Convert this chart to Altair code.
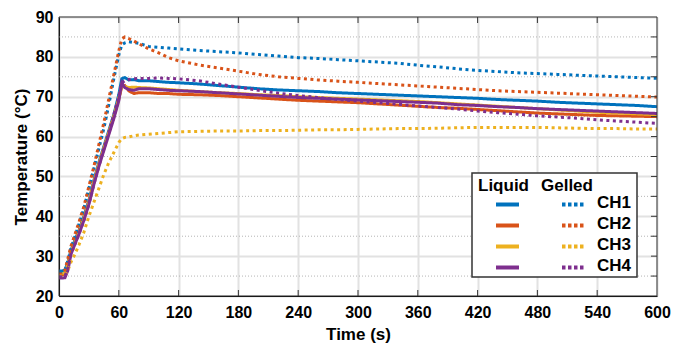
import altair as alt
import pandas as pd

FONT = "Liberation Sans"

time_s = [0, 3, 6, 9, 12, 16, 20, 25, 30, 35, 40, 45, 50, 55, 60,
          63, 66, 70, 75, 80, 90, 100, 110, 120,
          140, 160, 180, 200, 220, 240, 260, 280, 300, 320, 340, 360,
          380, 400, 420, 440, 460, 480, 500, 520, 540, 560, 580, 600]

liquid_ch1 = [26.3, 26.3, 26.5, 28.5, 31.5, 34.0, 36.5, 40.0, 44.0, 49.0, 53.5, 57.5, 61.5, 65.5, 70.5,
              74.5, 74.8, 74.2, 74.3, 74.0, 74.0, 73.8, 73.6, 73.5,
              73.2, 72.8, 72.4, 72.0, 71.7, 71.5, 71.3, 71.0, 70.8, 70.6, 70.4, 70.2,
              70.0, 69.8, 69.6, 69.3, 69.1, 68.9, 68.6, 68.4, 68.2, 68.0, 67.8, 67.5]
liquid_ch2 = [25.3, 25.3, 25.5, 28.0, 31.0, 33.5, 36.0, 39.5, 43.5, 48.5, 53.0, 57.0, 61.0, 65.0, 69.5,
              72.5, 72.8, 71.5, 70.8, 71.0, 71.0, 70.8, 70.8, 70.6,
              70.5, 70.3, 70.0, 69.7, 69.4, 69.1, 68.9, 68.7, 68.5, 68.2, 67.9, 67.6,
              67.3, 67.1, 66.8, 66.5, 66.2, 65.9, 65.7, 65.5, 65.3, 65.2, 65.1, 65.0]
liquid_ch3 = [25.6, 25.6, 25.8, 28.0, 31.0, 33.5, 36.0, 39.5, 43.5, 48.5, 53.0, 57.0, 61.0, 65.0, 69.5,
              73.0, 72.6, 72.3, 72.4, 72.3, 72.2, 72.0, 71.8, 71.6,
              71.3, 71.0, 70.8, 70.5, 70.3, 70.0, 69.8, 69.6, 69.4, 69.2, 69.0, 68.8,
              68.5, 68.2, 67.9, 67.6, 67.3, 67.0, 66.7, 66.4, 66.1, 65.9, 65.7, 65.5]
liquid_ch4 = [24.5, 24.5, 24.6, 26.5, 30.5, 33.0, 35.5, 39.0, 43.0, 48.0, 52.5, 56.5, 60.5, 64.5, 69.0,
              73.5, 72.3, 71.8, 71.6, 72.0, 72.0, 71.8, 71.6, 71.5,
              71.3, 71.0, 70.7, 70.4, 70.1, 69.8, 69.6, 69.4, 69.2, 69.0, 68.8, 68.6,
              68.4, 68.0, 67.8, 67.5, 67.3, 67.0, 66.8, 66.6, 66.4, 66.2, 66.0, 65.8]

gelled_ch1 = [26.0, 26.0, 26.5, 29.0, 32.0, 35.0, 38.0, 42.0, 47.0, 52.0, 57.0, 62.0, 68.0, 74.5, 80.5,
              83.0, 83.5, 83.8, 83.6, 83.4, 82.6, 82.4, 82.2, 82.0,
              81.6, 81.3, 81.0, 80.6, 80.2, 79.8, 79.6, 79.3, 79.0, 78.7, 78.4, 77.9,
              77.5, 77.0, 76.6, 76.3, 76.0, 75.8, 75.6, 75.4, 75.2, 75.0, 74.8, 74.6]
gelled_ch2 = [25.5, 25.5, 26.5, 29.5, 32.5, 35.5, 38.5, 42.5, 47.5, 52.5, 58.0, 63.5, 69.5, 75.5, 81.5,
              84.5, 85.0, 84.6, 84.0, 83.3, 82.0, 81.0, 79.8, 79.0,
              78.0, 77.2, 76.4, 75.6, 75.0, 74.6, 74.2, 73.9, 73.6, 73.3, 73.0, 72.7,
              72.4, 72.1, 71.8, 71.5, 71.3, 71.1, 70.9, 70.7, 70.5, 70.3, 70.1, 69.9]
gelled_ch3 = [25.0, 25.0, 25.2, 26.5, 28.5, 30.5, 32.8, 36.0, 40.0, 43.5, 47.0, 50.5, 53.5, 56.0, 58.5,
              59.5, 59.8, 59.9, 60.2, 60.4, 60.6, 60.8, 61.0, 61.2,
              61.3, 61.4, 61.4, 61.5, 61.5, 61.6, 61.7, 61.7, 61.8, 61.9, 62.0, 62.0,
              62.1, 62.2, 62.3, 62.3, 62.3, 62.3, 62.2, 62.1, 62.0, 62.0, 61.9, 61.9]
gelled_ch4 = [24.8, 24.8, 25.0, 27.0, 30.5, 33.0, 35.5, 39.0, 43.0, 48.0, 52.5, 57.0, 61.0, 65.5, 70.0,
              73.5, 74.0, 74.3, 74.5, 74.6, 74.6, 74.7, 74.6, 74.5,
              74.0, 73.2, 72.4, 71.6, 70.9, 70.3, 69.8, 69.3, 68.9, 68.5, 68.1, 67.7,
              67.3, 66.9, 66.4, 66.0, 65.6, 65.2, 64.9, 64.6, 64.2, 63.9, 63.6, 63.3]

channels = ["CH1", "CH2", "CH3", "CH4"]
states = ["Liquid", "Gelled"]
colors = ["#0072BD", "#D95319", "#EDB120", "#7E2F8E"]

x_ticks = [0, 60, 120, 180, 240, 300, 360, 420, 480, 540, 600]
y_ticks = [20, 30, 40, 50, 60, 70, 80, 90]
y_minor = [25, 35, 45, 55, 65, 75, 85]

series = {
    ("Liquid", "CH1"): liquid_ch1, ("Liquid", "CH2"): liquid_ch2,
    ("Liquid", "CH3"): liquid_ch3, ("Liquid", "CH4"): liquid_ch4,
    ("Gelled", "CH1"): gelled_ch1, ("Gelled", "CH2"): gelled_ch2,
    ("Gelled", "CH3"): gelled_ch3, ("Gelled", "CH4"): gelled_ch4,
}
rows = []
for (state, ch), vals in series.items():
    for t, v in zip(time_s, vals):
        rows.append({"time": t, "temp": v, "channel": ch, "state": state})
df = pd.DataFrame(rows)

W, H = 598, 279
color_scale = alt.Scale(domain=channels, range=colors)
x_scale = alt.Scale(domain=[0, 600], nice=False)
y_scale = alt.Scale(domain=[20, 90], nice=False, zero=False)

x_axis = alt.Axis(
    values=x_ticks, title="Time (s)", ticks=False, labelFlush=False, labelOverlap=False,
    labelFont=FONT, labelFontSize=16, labelFontWeight="bold", labelColor="black",
    labelPadding=8, titleFont=FONT, titleFontSize=17, titleFontWeight="bold",
    titleColor="black", titlePadding=6, domainColor="black", domainWidth=1,
    gridColor="#e2e2e2", gridWidth=2)
y_axis = alt.Axis(
    values=y_ticks, title="Temperature (°C)", ticks=False, labelFlush=False, labelOverlap=False,
    labelFont=FONT, labelFontSize=16, labelFontWeight="bold", labelColor="black",
    labelPadding=6, titleFont=FONT, titleFontSize=17, titleFontWeight="bold",
    titleColor="black", titlePadding=5, domainColor="black", domainWidth=1,
    gridColor="#e2e2e2", gridWidth=2)

X = lambda: alt.X("time:Q", scale=x_scale, axis=x_axis)
Y = lambda: alt.Y("temp:Q", scale=y_scale, axis=y_axis)

lines = alt.Chart(df).mark_line(strokeWidth=3, strokeCap="butt").encode(
    x=X(), y=Y(),
    color=alt.Color("channel:N", scale=color_scale, legend=None),
    strokeDash=alt.StrokeDash("state:N", scale=alt.Scale(domain=states, range=[[1, 0], [3, 3.5]]), legend=None),
)

minor = alt.Chart(pd.DataFrame({"temp": y_minor})).mark_rule(
    color="#b5b5b5", strokeWidth=1, strokeDash=[1, 2]).encode(y=Y())

xt = pd.DataFrame({"time": x_ticks[1:-1]})
yt = pd.DataFrame({"temp": y_ticks[1:-1] + y_minor})
top_ticks = alt.Chart(xt).mark_rule(color="#333333", strokeWidth=1).encode(
    x=X(), y=alt.value(0), y2=alt.value(6))
bot_ticks = alt.Chart(xt).mark_rule(color="#333333", strokeWidth=1).encode(
    x=X(), y=alt.value(H - 6), y2=alt.value(H))
right_ticks = alt.Chart(yt).mark_rule(color="#333333", strokeWidth=1).encode(
    y=Y(), x=alt.value(W - 6), x2=alt.value(W))

one = pd.DataFrame({"k": [0]})
border = alt.Chart(one).mark_rect(filled=False, stroke="#333333", strokeWidth=1).encode(
    x=alt.value(0), x2=alt.value(W), y=alt.value(0), y2=alt.value(H))

# legend (decoration)
LX, LY = 413, 156
legend_layers = [
    alt.Chart(one).mark_rect(fill="white", stroke="#333333", strokeWidth=1.5).encode(
        x=alt.value(LX), x2=alt.value(LX + 165), y=alt.value(LY), y2=alt.value(LY + 104)),
    alt.Chart(one).mark_text(align="left", baseline="alphabetic", font=FONT, fontSize=17,
                             fontWeight="bold", color="black").encode(
        x=alt.value(LX + 6), y=alt.value(LY + 18), text=alt.value("Liquid")),
    alt.Chart(one).mark_text(align="left", baseline="alphabetic", font=FONT, fontSize=17,
                             fontWeight="bold", color="black").encode(
        x=alt.value(LX + 69), y=alt.value(LY + 18), text=alt.value("Gelled")),
]
for i, (ch, col) in enumerate(zip(channels, colors)):
    py = LY + 31.5 + 21 * i
    legend_layers.append(alt.Chart(one).mark_rule(color=col, strokeWidth=4).encode(
        x=alt.value(LX + 24), x2=alt.value(LX + 47), y=alt.value(py)))
    legend_layers.append(alt.Chart(one).mark_rule(color=col, strokeWidth=4, strokeDash=[3.5, 2.5]).encode(
        x=alt.value(LX + 90), x2=alt.value(LX + 113), y=alt.value(py)))
    legend_layers.append(alt.Chart(one).mark_text(align="left", baseline="alphabetic", font=FONT,
                                                  fontSize=17, fontWeight="bold", color="black").encode(
        x=alt.value(LX + 125), y=alt.value(py + 3.5), text=alt.value(ch)))

chart = alt.layer(minor, lines, top_ticks, bot_ticks, right_ticks, border, *legend_layers).properties(
    width=W, height=H,
    autosize=alt.AutoSizeParams(type="none"),
    padding={"left": 51, "top": 9, "right": 16, "bottom": 49},
).configure_view(stroke=None)

chart.save("out.html", embed_options={"renderer": "svg", "actions": False})
